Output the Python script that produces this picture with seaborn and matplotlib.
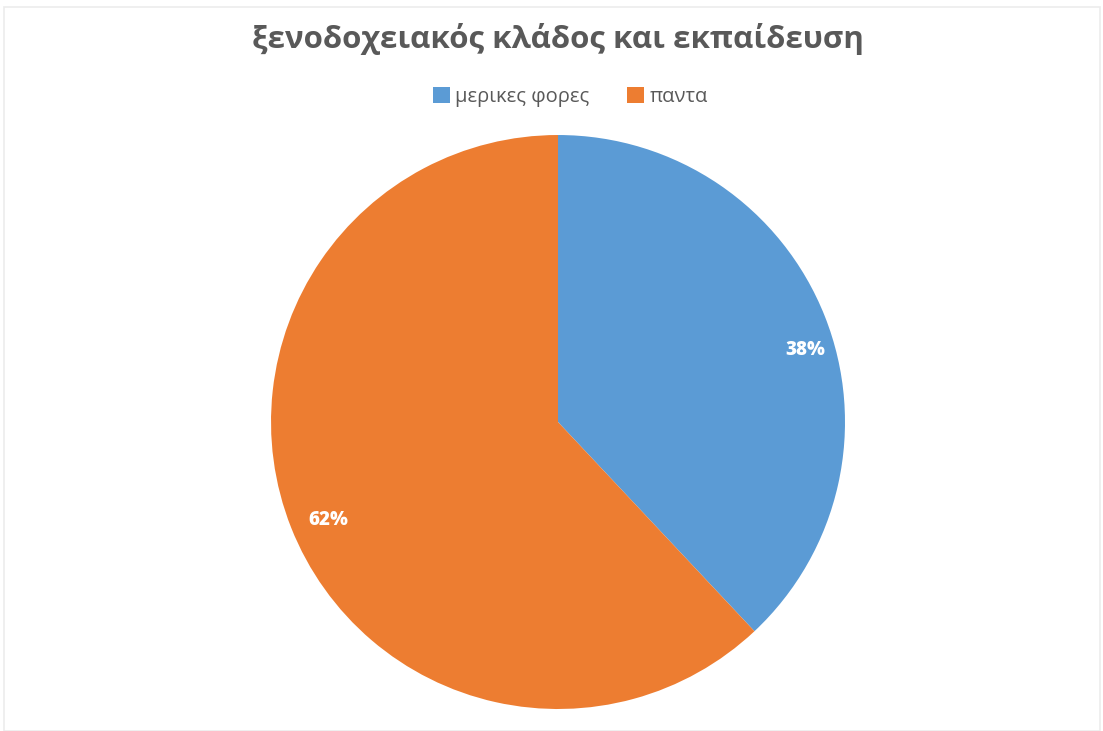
import matplotlib
matplotlib.use("Agg")
import matplotlib.pyplot as plt
from matplotlib.patches import Rectangle
import seaborn as sns

# Survey answers: hotel industry and training
categories = ["μερικες φορες", "παντα"]
shares = [38, 62]
colors = ["#5B9BD5", "#ED7D31"]
title = "ξενοδοχειακός κλάδος και εκπαίδευση"

sns.set_theme(style="white")
plt.rcParams["font.family"] = ["Open Sans", "DejaVu Sans"]

fig = plt.figure(figsize=(11.03, 7.31), dpi=100)
fig.patch.set_facecolor("white")

# faint outer frame of the chart area
fig.add_artist(Rectangle((4 / 1103, 0), 1096 / 1103, 724 / 731,
                         transform=fig.transFigure, fill=False,
                         edgecolor="#ececec", linewidth=1.2))

ax = fig.add_axes([0.2457, 0.0301, 0.5204, 0.7852])
wedges, texts, autotexts = ax.pie(
    shares, colors=colors, startangle=90, counterclock=False,
    autopct=lambda p: f"{p:.0f}%", pctdistance=0.9, radius=1,
    wedgeprops=dict(linewidth=0),
    textprops=dict(color="white", fontsize=13.5, fontweight="heavy"),
)
ax.set_xlim(-1, 1)
ax.set_ylim(-1, 1)
ax.set_aspect("equal")
ax.axis("off")

# label placement inside each slice
label_pos = [(0.861, 0.251), (-0.801, -0.341)]
for t, pos in zip(autotexts, label_pos):
    t.set_position(pos)
    t.set_ha("center")
    t.set_va("center")

fig.text(0.506, 1 - 39 / 731, title, ha="center", va="center",
         fontsize=22.5, fontweight="bold", color="#595959")

leg = fig.legend(wedges, categories, loc="center", ncol=2,
                 bbox_to_anchor=(0.517, 1 - 97 / 731), frameon=False,
                 fontsize=14.5, handlelength=0.85, handleheight=0.85,
                 handletextpad=0.25, columnspacing=1.9)
for txt in leg.get_texts():
    txt.set_color("#595959")

fig.savefig("out.png", dpi=100, facecolor="white")
